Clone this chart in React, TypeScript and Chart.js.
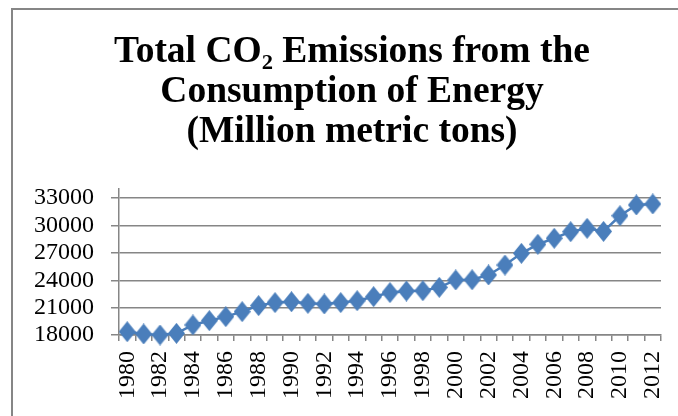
import React, { useEffect, useRef } from 'react';
import { Chart, registerables } from 'chart.js';

Chart.register(...registerables);

const titleLines = ['Total CO\u2082 Emissions from the', 'Consumption of Energy', '(Million metric tons)'];

const years = [
  '1980', '1981', '1982', '1983', '1984', '1985', '1986', '1987', '1988', '1989',
  '1990', '1991', '1992', '1993', '1994', '1995', '1996', '1997', '1998', '1999',
  '2000', '2001', '2002', '2003', '2004', '2005', '2006', '2007', '2008', '2009',
  '2010', '2011', '2012',
];

const emissions = [
  18360, 18110, 18000, 18180, 19100, 19570, 20010, 20560, 21220, 21550,
  21650, 21470, 21400, 21550, 21760, 22200, 22650, 22820, 22850, 23220,
  24030, 24050, 24580, 25670, 26950, 27940, 28600, 29320, 29690, 29350,
  31070, 32250, 32360,
];

const yTicks = [18000, 21000, 24000, 27000, 30000, 33000];
const yMin = 18000;
const yMax = 34000;

const FONT = '"Liberation Serif", "Times New Roman", serif';
const AXIS = '#868686';
const BLUE = '#4a7ebb';

// diamond marker (slightly taller than wide, as in the reference)
function makeDiamond(w: number, h: number, color: string) {
  const c = document.createElement('canvas');
  c.width = w;
  c.height = h;
  const ctx = c.getContext('2d')!;
  ctx.fillStyle = color;
  ctx.beginPath();
  ctx.moveTo(w / 2, 0);
  ctx.lineTo(w, h / 2);
  ctx.lineTo(w / 2, h);
  ctx.lineTo(0, h / 2);
  ctx.closePath();
  ctx.fill();
  return c;
}

// shifts the title block so its centre sits where the reference title is
const titleShift = {
  id: 'titleShift',
  afterLayout(chart: any) {
    const tb = chart.titleBlock;
    if (tb) {
      tb.left = 30;
      tb.right = 648;
    }
  },
};

export default function App() {
  const ref = useRef<HTMLCanvasElement | null>(null);

  useEffect(() => {
    if (!ref.current) return;
    const diamond = makeDiamond(17, 21, BLUE);
    const chart = new Chart(ref.current, {
      type: 'line',
      data: {
        labels: years,
        datasets: [
          {
            data: emissions,
            borderColor: BLUE,
            borderWidth: 2.5,
            backgroundColor: BLUE,
            pointStyle: diamond as any,
            pointRadius: 9,
            pointBorderWidth: 0,
            pointBackgroundColor: BLUE,
            pointBorderColor: BLUE,
            tension: 0,
            clip: false as any,
          },
        ],
      },
      plugins: [titleShift],
      options: {
        animation: false,
        responsive: false,
        maintainAspectRatio: false,
        layout: { padding: { left: 0, right: 17, top: 0, bottom: 0 } },
        plugins: {
          legend: { display: false },
          tooltip: { enabled: false },
          title: {
            display: true,
            text: titleLines,
            color: '#000',
            font: { family: FONT, size: 37.5, weight: 'bold', lineHeight: 40 / 37.5 },
            padding: { top: 22, bottom: 37 },
          },
        },
        scales: {
          x: {
            type: 'category',
            offset: true,
            grid: {
              display: true,
              offset: true,
              drawOnChartArea: false,
              drawTicks: true,
              tickLength: 6,
              color: AXIS,
              lineWidth: 1.5,
            },
            border: { display: true, color: AXIS, width: 1.5 },
            ticks: {
              autoSkip: false,
              minRotation: 90,
              maxRotation: 90,
              padding: 10,
              color: '#000',
              font: { family: FONT, size: 24 },
              callback: (_v: any, i: number) => (i % 2 === 0 ? years[i] : ''),
            },
            afterFit: (s: any) => {
              s.height = 81;
              s.paddingLeft = 0;
              s.paddingRight = 0;
            },
          },
          y: {
            type: 'linear',
            min: yMin,
            max: yMax,
            afterBuildTicks: (s: any) => {
              s.ticks = yTicks.map((v) => ({ value: v }));
            },
            grid: {
              color: AXIS,
              lineWidth: 1.5,
              drawTicks: true,
              tickLength: 8,
            },
            border: { display: true, color: AXIS, width: 1.5 },
            ticks: {
              autoSkip: false,
              padding: 17,
              color: '#000',
              font: { family: FONT, size: 24 },
              callback: (v: any) => String(v),
            },
            afterFit: (s: any) => {
              s.width = 106;
              s.paddingTop = 0;
              s.paddingBottom = 0;
            },
          },
        },
      },
    });
    return () => chart.destroy();
  }, []);

  return (
    <div
      style={{
        position: 'fixed',
        left: 11,
        top: 8,
        width: 667,
        height: 408,
        borderLeft: `2px solid ${AXIS}`,
        borderTop: `2px solid ${AXIS}`,
        boxSizing: 'border-box',
        background: '#fff',
        overflow: 'hidden',
      }}
    >
      <canvas ref={ref} width={665} height={406} style={{ display: 'block' }} />
    </div>
  );
}
